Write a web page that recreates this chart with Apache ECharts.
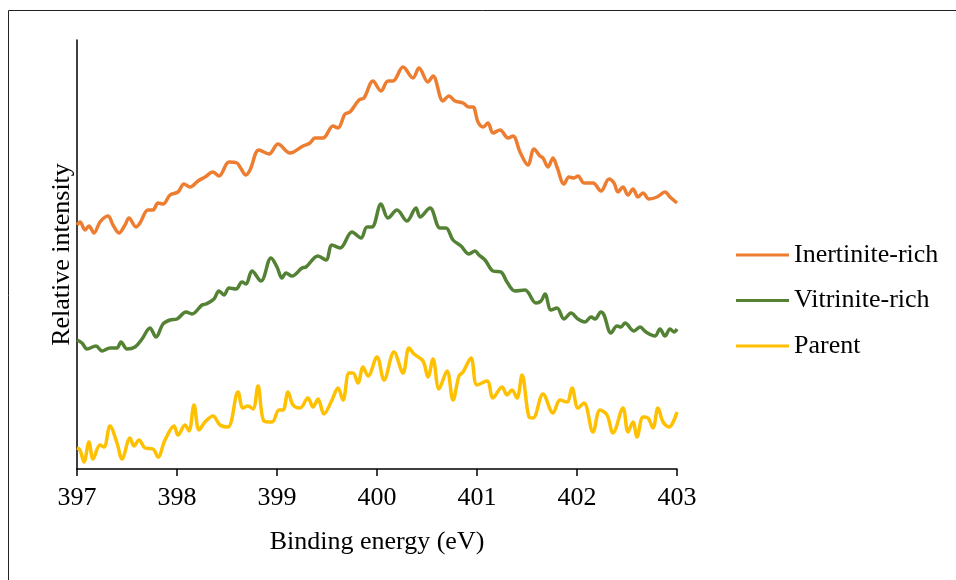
<!DOCTYPE html>
<html lang="en">

<head>
  <meta charset="UTF-8">
  <title>N 1s spectra</title>
  <style type="text/css">
    html, body {
      margin: 0;
      padding: 0;
      background: #fff;
    }
    #main {
      width: 956px;
      height: 580px;
    }
  </style>
</head>

<body>
  <div id="main"></div>
</body>
<script type="text/javascript" src="https://cdn.jsdelivr.net/npm/echarts@6/dist/echarts.min.js"></script>
<script type="text/javascript">
  // x tick values (eV)
  var energyTicks = [397, 398, 399, 400, 401, 402, 403]
  var seriesNames = ['Inertinite-rich', 'Vitrinite-rich', 'Parent']

  // Inertinite-rich
  var inertEnergy = [397.00, 397.03, 397.08, 397.12, 397.17, 397.23, 397.31, 397.36, 397.42, 397.48,
    397.52, 397.59, 397.63, 397.71, 397.76, 397.81, 397.86, 397.93, 398.01, 398.07,
    398.13, 398.21, 398.28, 398.36, 398.42, 398.52, 398.60, 398.63, 398.69, 398.73,
    398.82, 398.92, 399.01, 399.13, 399.26, 399.33, 399.38, 399.46, 399.56, 399.61,
    399.68, 399.73, 399.82, 399.87, 399.96, 400.04, 400.11, 400.16, 400.26, 400.36,
    400.42, 400.51, 400.56, 400.66, 400.72, 400.78, 400.86, 400.92, 400.96, 401.01,
    401.06, 401.11, 401.16, 401.23, 401.31, 401.36, 401.43, 401.51, 401.57, 401.63,
    401.66, 401.71, 401.76, 401.80, 401.87, 401.92, 401.97, 402.01, 402.07, 402.16,
    402.24, 402.32, 402.37, 402.41, 402.46, 402.51, 402.56, 402.61, 402.66, 402.72,
    402.80, 402.88, 402.93, 403.00]
  var inertIntensity = [240, 243, 235, 239, 232, 243, 249, 240, 232, 240,
    247, 238, 242, 255, 255, 262, 261, 270, 273, 281,
    278, 284, 288, 293, 289, 303, 302, 298, 290, 295,
    315, 311, 321, 312, 319, 322, 327, 327, 339, 337,
    351, 353, 365, 367, 384, 374, 384, 384, 398, 387,
    397, 383, 389, 364, 369, 364, 362, 358, 358, 343,
    338, 342, 332, 335, 327, 329, 313, 300, 316, 309,
    307, 298, 307, 298, 281, 288, 287, 289, 282, 282,
    274, 286, 282, 273, 278, 270, 276, 268, 272, 266,
    268, 273, 268, 262]

  // Vitrinite-rich
  var vitEnergy = [397.00, 397.05, 397.10, 397.19, 397.25, 397.33, 397.40, 397.44, 397.50, 397.58,
    397.65, 397.73, 397.79, 397.86, 397.93, 398.00, 398.09, 398.15, 398.25, 398.29,
    398.37, 398.42, 398.47, 398.52, 398.59, 398.65, 398.69, 398.75, 398.84, 398.94,
    399.00, 399.05, 399.09, 399.15, 399.25, 399.29, 399.41, 399.49, 399.55, 399.63,
    399.75, 399.84, 399.90, 399.95, 400.04, 400.11, 400.20, 400.30, 400.39, 400.43,
    400.53, 400.63, 400.69, 400.76, 400.84, 400.92, 400.98, 401.02, 401.08, 401.16,
    401.24, 401.30, 401.38, 401.48, 401.59, 401.64, 401.68, 401.74, 401.80, 401.87,
    401.94, 402.01, 402.08, 402.14, 402.18, 402.24, 402.27, 402.34, 402.40, 402.44,
    402.48, 402.57, 402.63, 402.69, 402.78, 402.83, 402.88, 402.93, 402.97, 403.00]
  var vitIntensity = [125, 122, 116, 119, 114, 117, 117, 123, 116, 118,
    126, 137, 128, 141, 145, 146, 153, 151, 160, 161,
    166, 174, 170, 177, 176, 183, 181, 194, 184, 207,
    198, 187, 192, 189, 197, 198, 209, 205, 220, 217,
    233, 227, 238, 238, 261, 247, 255, 244, 257, 248,
    257, 237, 237, 225, 219, 211, 214, 210, 205, 194,
    193, 183, 174, 175, 162, 164, 171, 155, 157, 146,
    152, 146, 143, 148, 146, 153, 150, 132, 139, 138,
    142, 134, 138, 133, 129, 136, 129, 136, 133, 136]

  // Parent
  var parentEnergy = [397.00, 397.03, 397.07, 397.12, 397.16, 397.23, 397.27, 397.33, 397.40, 397.45,
    397.53, 397.57, 397.62, 397.68, 397.76, 397.81, 397.88, 397.97, 398.01, 398.08,
    398.12, 398.17, 398.22, 398.28, 398.36, 398.43, 398.51, 398.61, 398.66, 398.71,
    398.76, 398.81, 398.87, 398.95, 399.02, 399.06, 399.11, 399.16, 399.23, 399.31,
    399.36, 399.41, 399.47, 399.55, 399.61, 399.66, 399.72, 399.76, 399.81, 399.86,
    399.91, 400.00, 400.07, 400.17, 400.26, 400.32, 400.37, 400.46, 400.51, 400.56,
    400.62, 400.70, 400.76, 400.82, 400.86, 400.94, 401.00, 401.10, 401.16, 401.25,
    401.30, 401.35, 401.40, 401.45, 401.52, 401.56, 401.66, 401.76, 401.83, 401.90,
    401.95, 402.01, 402.07, 402.16, 402.23, 402.30, 402.36, 402.46, 402.51, 402.56,
    402.60, 402.66, 402.71, 402.76, 402.81, 402.86, 402.92, 403.00]
  var parentIntensity = [17, 15, 3, 23, 6, 20, 18, 39, 22, 6,
    27, 19, 25, 17, 16, 8, 25, 39, 30, 40,
    34, 60, 35, 43, 49, 40, 38, 73, 57, 59,
    56, 79, 44, 43, 55, 55, 73, 60, 57, 67,
    58, 66, 51, 65, 77, 65, 92, 92, 82, 98,
    89, 108, 85, 113, 92, 117, 111, 104, 88, 106,
    76, 94, 65, 89, 93, 107, 80, 84, 67, 78,
    70, 75, 67, 90, 48, 47, 71, 52, 65, 63,
    77, 57, 62, 33, 55, 50, 32, 57, 33, 43,
    28, 48, 47, 37, 57, 43, 38, 53]

  var seriesColors = ['#ED7D31', '#548235', '#FFC000']

  function pairs(xs, ys) {
    var out = []
    for (var i = 0; i < xs.length; i++) {
      out.push([xs[i], ys[i]])
    }
    return out
  }

  var myChart = echarts.init(document.getElementById('main'));
  var font = 'Liberation Serif, Times New Roman, serif'

  var lineSeries = [
    pairs(inertEnergy, inertIntensity),
    pairs(vitEnergy, vitIntensity),
    pairs(parentEnergy, parentIntensity)
  ].map(function (d, i) {
    return {
      name: seriesNames[i],
      type: 'line',
      data: d,
      smooth: 0.35,
      symbol: 'none',
      lineStyle: { color: seriesColors[i], width: 3.5 },
      itemStyle: { color: seriesColors[i] }
    }
  })

  var option = {
    animation: false,
    backgroundColor: '#fff',
    textStyle: { fontFamily: font },
    graphic: [{
      // outer frame, only left and top edges are visible
      type: 'rect',
      shape: { x: 8.5, y: 10.5, width: 1200, height: 1000 },
      style: { fill: 'none', stroke: '#222', lineWidth: 1 },
      silent: true
    }],
    grid: {
      left: 77,
      right: 279,
      top: 40,
      bottom: 111
    },
    legend: {
      orient: 'vertical',
      left: 731,
      top: 235,
      itemWidth: 53,
      itemHeight: 14,
      itemGap: 15.5,
      icon: 'path://M0,5.5 L53,5.5 L53,8.5 L0,8.5 Z',
      data: seriesNames,
      textStyle: {
        fontFamily: font,
        fontSize: 26,
        color: '#000',
        lineHeight: 30
      }
    },
    xAxis: {
      type: 'value',
      min: energyTicks[0],
      max: energyTicks[energyTicks.length - 1],
      interval: 1,
      name: 'Binding energy (eV)',
      nameLocation: 'middle',
      nameGap: 60,
      nameTextStyle: { fontFamily: font, fontSize: 26, color: '#000' },
      axisLine: { show: true, onZero: false, lineStyle: { color: '#000', width: 1.5 } },
      axisTick: { show: true, inside: false, length: 7, lineStyle: { color: '#000', width: 1.5 } },
      axisLabel: { fontFamily: font, fontSize: 26, color: '#000', margin: 16 },
      splitLine: { show: false }
    },
    yAxis: {
      type: 'value',
      min: -4,
      max: 425,
      name: 'Relative intensity',
      nameLocation: 'middle',
      nameGap: 2,
      nameTextStyle: { fontFamily: font, fontSize: 26, color: '#000' },
      axisLine: { show: true, lineStyle: { color: '#000', width: 1.5 } },
      axisTick: { show: false },
      axisLabel: { show: false },
      splitLine: { show: false }
    },
    series: lineSeries
  };
  myChart.setOption(option);
</script>

</html>
